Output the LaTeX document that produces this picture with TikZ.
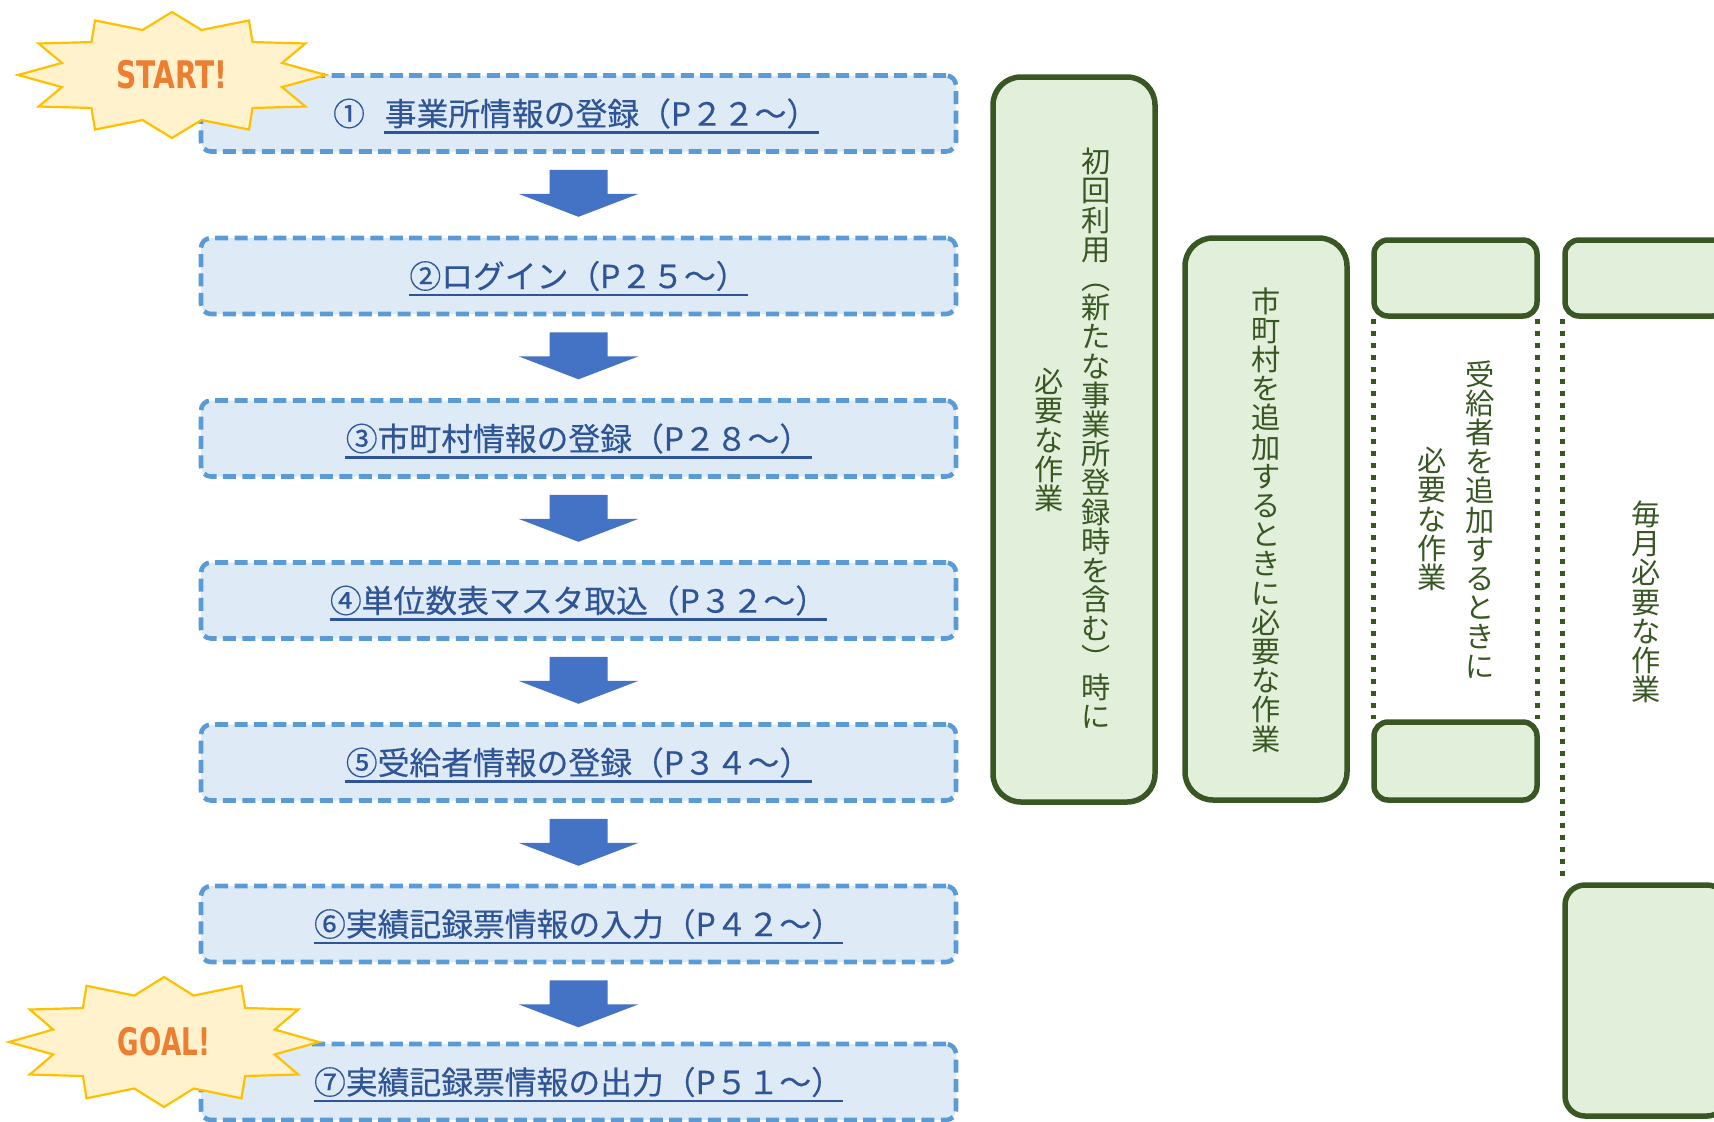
\documentclass[tikz,border=0pt]{standalone}
\usepackage{fontspec}
\usepackage{graphicx}
\setmainfont{Noto Sans CJK JP}
\newfontfamily\stepfont{Noto Sans CJK JP}[FakeBold=0.4]
\newfontfamily\popfont{DejaVu Sans}
\usetikzlibrary{positioning,calc,backgrounds}
\definecolor{boxline}{HTML}{5B9BD5}
\definecolor{boxfill}{HTML}{DEEBF7}
\definecolor{labelblue}{HTML}{2F5597}
\definecolor{arrowblue}{HTML}{4472C4}
\definecolor{burstline}{HTML}{FFC000}
\definecolor{burstfill}{HTML}{FFF2CC}
\definecolor{poporange}{HTML}{ED7D31}
\definecolor{greenline}{HTML}{385723}
\definecolor{greenfill}{HTML}{E2EFDA}
\newcommand\tatestop{}
\def\tatestep#1{\ifx#1\tatestop\else\hbox to 1em{\hss\vrule height .88em depth .12em width 0pt\smash{#1}\hss}\expandafter\tatestep\fi}
\newcommand\tate[1]{\vbox{\offinterlineskip\tatestep#1\tatestop}}
\begin{document}
\begin{tikzpicture}[x=.5pt, y=-.5pt,
  stepbox/.style={draw=boxline, fill=boxfill, line width=2.3pt, dash pattern=on 6.5pt off 3.2pt, rounded corners=5pt, minimum width=377.5pt, minimum height=38pt, inner sep=0pt},
  steplabel/.style={inner sep=0pt, text=labelblue, font=\stepfont\fontsize{15.9}{15.9}\selectfont},
  stepline/.style={draw=labelblue, line width=1.3pt},
  downarrow/.style={fill=arrowblue},
  burst/.style={draw=burstline, fill=burstfill, line width=1.1pt, line join=miter},
  bursttext/.style={inner sep=0pt, text=poporange, font=\popfont\bfseries\fontsize{19}{19}\selectfont},
  greenbox/.style={draw=greenline, fill=greenfill, line width=2.75pt, inner sep=0pt},
  dotline/.style={draw=greenline, line width=2.5pt, dash pattern=on 2.5pt off 3.5pt},
  tatetext/.style={inner sep=0pt, text=greenline, font=\fontsize{14.6}{14.6}\selectfont}]
\useasboundingbox (0,0) rectangle (1714,1121);
\clip (0,0) rectangle (1714,1121);
\foreach \n/\yy in {1/113.5,2/276,3/438.5,4/600.5,5/762.5,6/924,7/1082}
  \node[stepbox] (b\n) at (578.5,\yy) {};
\foreach \n in {1,...,6}
  \fill[downarrow] ($(b\n.south)+(-29,16)$) -- ++(58,0) -- ++(0,24) -- ++(31,0) -- ++(-60,23) -- ++(-60,-23) -- ++(31,0) -- cycle;
\node[steplabel] (t1) at ($(b1)+(23,0)$) {事業所情報の登録（P２２～）\hspace{.4em}};
\node[steplabel, left=9.5pt of t1] (n1) {①};
\foreach \n/\txt in {2/{②ログイン（P２５～）},3/{③市町村情報の登録（P２８～）},4/{④単位数表マスタ取込（P３２～）},5/{⑤受給者情報の登録（P３４～）},6/{⑥実績記録票情報の入力（P４２～）},7/{⑦実績記録票情報の出力（P５１～）}}
  \node[steplabel] (t\n) at (b\n) {\txt\hspace{.4em}};
\foreach \n in {1,...,7}
  \draw[stepline] ([yshift=-3.5pt]t\n.base west) -- ([yshift=-3.5pt]t\n.base east);
\foreach \cx/\cy/\rx/\ry/\nm/\word/\sc in {172/75/154/63/start/START!/.74,164/1042/155/65/goal/GOAL!/.69}{
  \draw[burst] plot[samples at={0,...,23}] ({\cx+\rx*(1-.26*mod(\x,2))*cos(90+15*\x)}, {\cy-\ry*(1-.26*mod(\x,2))*sin(90+15*\x)}) -- cycle;
  \node[bursttext] (\nm) at (\cx,\cy) {\scalebox{\sc}[1]{\word}};
}
\node[greenbox, minimum width=81pt, minimum height=362.5pt, rounded corners=14pt] (first) at (1074,439.5) {};
\node[greenbox, minimum width=81pt, minimum height=281pt, rounded corners=14pt] (muni) at (1266,519) {};
\node[greenbox, minimum width=81.5pt, minimum height=38pt, rounded corners=7pt] (clienttop) at (1455.5,278) {};
\node[greenbox, minimum width=81.5pt, minimum height=39pt, rounded corners=7pt] (clientbot) at (1455.5,761) {};
\node[greenbox, minimum width=81pt, minimum height=38pt, rounded corners=7pt] (monthtop) at (1646,278) {};
\node[greenbox, minimum width=81pt, minimum height=115.5pt, rounded corners=10pt] (monthbot) at (1646,1000.5) {};
\begin{scope}[on background layer]
\draw[dotline] ([xshift=1pt]clienttop.south west) -- ([xshift=1pt]clientbot.north west);
\draw[dotline] ([xshift=-1pt]clienttop.south east) -- ([xshift=-1pt]clientbot.north east);
\draw[dotline] (monthtop.south west) -- (monthbot.north west);
\end{scope}
\node[tatetext] (firstR) at (1096,439) {\tate{初回利用︵新たな事業所登録時を含む︶時に}};
\node[tatetext] (firstL) at (1049,440) {\tate{必要な作業}};
\node[tatetext] (munitxt) at (1266,520) {\tate{市町村を追加するときに必要な作業}};
\node[tatetext] (clientR) at (1480,520) {\tate{受給者を追加するときに}};
\node[tatetext] (clientL) at (1432,519) {\tate{必要な作業}};
\node[tatetext] (monthtxt) at (1646,602) {\tate{毎月必要な作業}};
\end{tikzpicture}
\end{document}
